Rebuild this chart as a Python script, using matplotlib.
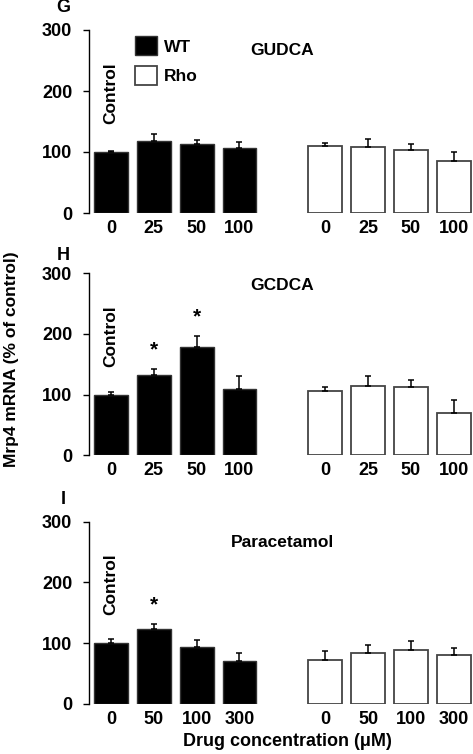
import matplotlib
matplotlib.use("Agg")
import matplotlib.pyplot as plt
from matplotlib.patches import Patch

plt.rcParams['font.family'] = ['Liberation Sans', 'DejaVu Sans']
plt.rcParams['font.weight'] = 'bold'

panel_letters = ["G", "H", "I"]
titles = ["GUDCA", "GCDCA", "Paracetamol"]
conc_labels = [["0", "25", "50", "100"],
               ["0", "25", "50", "100"],
               ["0", "50", "100", "300"]]

wt_vals = [[100, 118, 113, 106],
           [100, 132, 178, 109],
           [100, 124, 94, 71]]
wt_errs = [[2, 11, 7, 10],
           [4, 10, 19, 21],
           [7, 8, 12, 13]]
rho_vals = [[110, 108, 104, 86],
            [106, 114, 112, 70],
            [73, 84, 89, 81]]
rho_errs = [[5, 13, 9, 14],
            [6, 17, 12, 21],
            [15, 13, 15, 11]]
wt_sig = [[], [1, 2], [1]]

W, H = 473, 754
fig = plt.figure(figsize=(W / 100, H / 100), dpi=100)

# axes pixel boxes: (top of 300, y of 0)
ax_px = [(30, 213), (273.3, 455.3), (521.7, 704)]
left_px = 89
title_y = [267, 280, 265]
letter_y = [8, 255, 500]

wt_x = [0, 1, 2, 3]
rho_x = [5, 6, 7, 8]
bw = 0.79

for i in range(3):
    top, bot = ax_px[i]
    ax = fig.add_axes([left_px / W, 1 - bot / H, 1 - left_px / W, (bot - top) / H])
    ax.bar(wt_x, wt_vals[i], width=bw, color='black', edgecolor='#333333', linewidth=1.0,
           yerr=[[0] * 4, wt_errs[i]], error_kw=dict(ecolor='black', elinewidth=1.1, capsize=2.4, capthick=1.1),
           zorder=2)
    ax.bar(rho_x, rho_vals[i], width=bw, color='white', edgecolor='#444444', linewidth=1.3,
           yerr=[[0] * 4, rho_errs[i]], error_kw=dict(ecolor='black', elinewidth=1.1, capsize=2.4, capthick=1.1),
           zorder=2)
    for j in wt_sig[i]:
        ax.annotate('*', xy=(wt_x[j], wt_vals[i][j] + wt_errs[i][j]), xytext=(0, 10),
                    textcoords='offset points', ha='center', va='baseline',
                    fontsize=15, fontweight='bold')
    ax.set_ylim(0, 300)
    ax.set_xlim(-0.51, 8.45)
    ax.set_yticks([0, 100, 200, 300])
    ax.set_xticks(wt_x + rho_x)
    ax.set_xticklabels(conc_labels[i] + conc_labels[i])
    ax.tick_params(axis='y', direction='out', length=4, width=1, pad=8, labelsize=13)
    ax.tick_params(axis='x', length=0, pad=5, labelsize=13)
    for lab in ax.get_xticklabels() + ax.get_yticklabels():
        lab.set_fontweight('bold')
    for s in ['top', 'right', 'bottom']:
        ax.spines[s].set_visible(False)
    ax.spines['left'].set_linewidth(1)
    ax.patch.set_alpha(0)
    ax.text(4.0, title_y[i], titles[i], ha='center', va='center', fontsize=12.5, fontweight='bold')
    ax.text(wt_x[0], 197, 'Control', rotation=90, ha='center', va='center', fontsize=12.5, fontweight='bold')
    fig.text(63.5 / W, 1 - letter_y[i] / H, panel_letters[i], ha='center', va='center',
             fontsize=13, fontweight='bold')
    if i == 0:
        handles = [Patch(facecolor='black', edgecolor='#333333', label='WT'),
                   Patch(facecolor='white', edgecolor='#444444', linewidth=1.3, label='Rho')]
        leg = ax.legend(handles=handles, loc='upper left', bbox_to_anchor=(0.12, 0.965),
                        frameon=False, borderpad=0, borderaxespad=0, handlelength=1.25,
                        handleheight=1.3, labelspacing=0.6, handletextpad=0.4,
                        prop=dict(size=12.5, weight='bold'))

fig.text(12 / W, 1 - 359 / H, 'Mrp4 mRNA (% of control)', rotation=90, ha='center', va='center',
         fontsize=12.5, fontweight='bold')
fig.text(287.5 / W, 1 - 742 / H, 'Drug concentration (\u03bcM)', ha='center', va='center',
         fontsize=13, fontweight='bold')

fig.savefig('out.png', dpi=100)
